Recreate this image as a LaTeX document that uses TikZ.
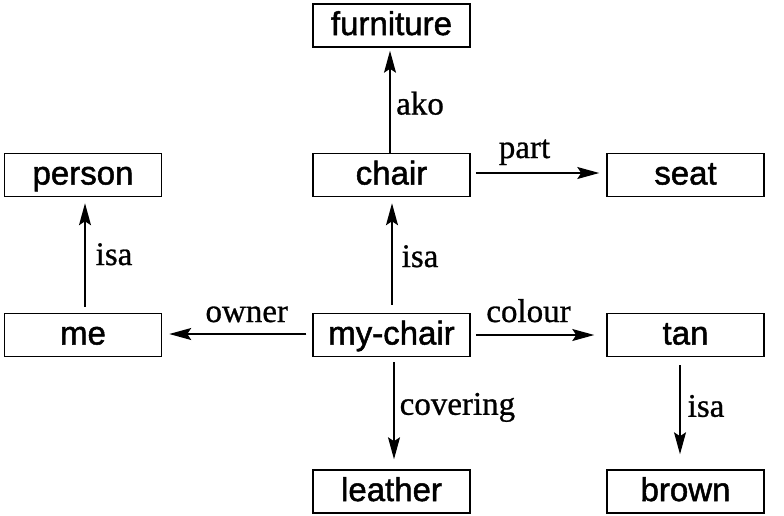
\documentclass[tikz,border=0pt]{standalone}
\usepackage{fontspec}
\setmainfont{Liberation Serif}[FakeBold=0.8]
\newfontfamily\boxfont{Liberation Sans}[FakeBold=1.5]
\usetikzlibrary{arrows.meta}
\begin{document}
\begin{tikzpicture}[x=1pt,y=-1pt,
  box/.style={draw, line width=1.5pt, rectangle, minimum width=157pt, minimum height=43pt, inner sep=0pt,
    text height=19pt, text depth=0pt,
    font=\boxfont\fontsize{33}{36}\selectfont},
  arr/.style={line width=1.4pt, -{Stealth[length=22pt,width=12pt,inset=4pt]}},
  lbl/.style={inner sep=0pt, font=\fontsize{33}{36}\selectfont}]
\useasboundingbox (0,0) rectangle (784,515);
\node[box] (furniture) at (391.5,25.5) {furniture};
\node[box] (person) at (83,175) {person};
\node[box] (chair) at (391.5,175) {chair};
\node[box] (seat) at (685.5,175) {seat};
\node[box] (me) at (83,335) {me};
\node[box] (mychair) at (391.5,335) {my-chair};
\node[box] (tan) at (685.5,335) {tan};
\node[box] (leather) at (391.5,491.5) {leather};
\node[box] (brown) at (685.5,491.5) {brown};

\draw[arr, shorten >=3pt] ([xshift=-1.5pt]chair.north) -- ([xshift=-1.5pt]furniture.south)
  node[lbl, midway, anchor=west, xshift=5.5pt, yshift=-3pt] {ako};
\draw[arr, shorten <=5pt, shorten >=7pt] ([yshift=2pt]chair.east) -- ([yshift=2pt]seat.west)
  node[lbl, midway, anchor=base, xshift=-14pt, yshift=15pt] {part};
\draw[arr, shorten <=6pt, shorten >=6pt] ([xshift=2pt]me.north) -- ([xshift=2pt]person.south)
  node[lbl, midway, anchor=base west, xshift=10pt, yshift=-10pt] {isa};
\draw[arr, shorten <=8pt, shorten >=6pt] ([xshift=0.5pt]mychair.north) -- ([xshift=0.5pt]chair.south)
  node[lbl, midway, anchor=base west, xshift=9pt, yshift=-12pt] {isa};
\draw[arr, shorten <=6pt, shorten >=7pt] ([yshift=1pt]mychair.west) -- ([yshift=1pt]me.east)
  node[lbl, midway, anchor=base, xshift=9.5pt, yshift=12pt] {owner};
\draw[arr, shorten <=5pt, shorten >=12pt] (mychair.east) -- (tan.west)
  node[lbl, midway, anchor=base, xshift=-10pt, yshift=13pt] {colour};
\draw[arr, shorten <=5pt, shorten >=10pt] ([xshift=2.5pt]mychair.south) -- ([xshift=2.5pt]leather.north)
  node[lbl, midway, anchor=base west, xshift=5pt, yshift=-1.5pt] {covering};
\draw[arr, shorten <=8pt, shorten >=15pt] ([xshift=-5.5pt]tan.south) -- ([xshift=-5.5pt]brown.north)
  node[lbl, midway, anchor=base west, xshift=7pt, yshift=-3.5pt] {isa};
\end{tikzpicture}
\end{document}
